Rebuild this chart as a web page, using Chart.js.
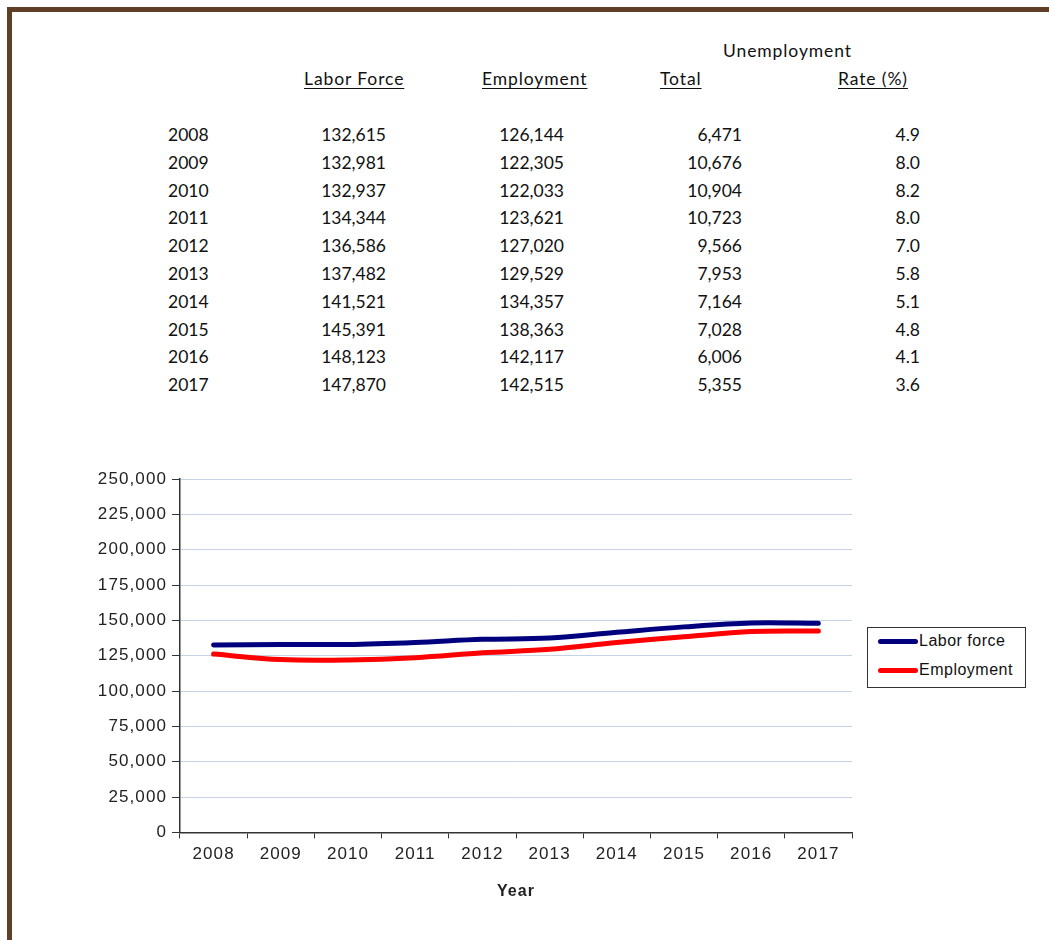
<!DOCTYPE html>
<html>
<head>
<meta charset="utf-8">
<script src="https://cdn.jsdelivr.net/npm/chart.js@4.4.1/dist/chart.umd.min.js"></script>
<style>
  body { margin: 0; background: #fff; width: 1049px; height: 940px; overflow: hidden; position: relative; }
  .frame { position: absolute; left: 7px; top: 7px; width: 1042px; height: 933px; border-top: 5px solid #603f26; border-left: 5px solid #603f26; }
  .t { position: absolute; font-family: Lato, sans-serif; font-size: 17.5px; color: #111; white-space: nowrap; line-height: 20px; }
  .h { letter-spacing: 0.9px; }
  .u { text-decoration: underline; text-underline-offset: 3px; text-decoration-thickness: 1px; }
  .r { text-align: right; }
  #wrap { position: absolute; left: 80px; top: 455px; width: 780px; height: 450px; }
  .legend { position: absolute; left: 867px; top: 627px; width: 157px; height: 59px; border: 1px solid #333; font-family: "Liberation Sans", Arial, sans-serif; font-size: 16px; letter-spacing: 0.5px; color: #111; }
  .legend .item { position: absolute; left: 10px; height: 18px; }
  .legend .sw { position: absolute; left: 0; top: 7px; width: 40px; height: 5px; border-radius: 3px; }
  .legend .lbl { position: absolute; left: 41px; top: 0; white-space: nowrap; }
</style>
</head>
<body>
<div class="frame"></div>
<div id="table"></div>
<div id="wrap"><canvas id="chart"></canvas></div>
<div class="legend" id="legend"></div>
<script>
// Table / chart data
const years = ["2008", "2009", "2010", "2011", "2012", "2013", "2014", "2015", "2016", "2017"];
const laborForce = [132615, 132981, 132937, 134344, 136586, 137482, 141521, 145391, 148123, 147870];
const employment = [126144, 122305, 122033, 123621, 127020, 129529, 134357, 138363, 142117, 142515];
const unempTotal = [6471, 10676, 10904, 10723, 9566, 7953, 7164, 7028, 6006, 5355];
const unempRate = [4.9, 8.0, 8.2, 8.0, 7.0, 5.8, 5.1, 4.8, 4.1, 3.6];
const seriesNames = ["Labor force", "Employment"];
const seriesColors = ["#00007f", "#ff0000"];
const yTicks = { min: 0, max: 250000, step: 25000 };

const fmt = v => v.toLocaleString('en-US');

// build the table as text
const table = document.getElementById('table');
function cell(text, left, top, cls, width) {
  const d = document.createElement('div');
  d.className = 't ' + (cls || '');
  d.textContent = text;
  d.style.top = top + 'px';
  if (width) { d.style.width = width + 'px'; d.style.left = (left - width) + 'px'; }
  else d.style.left = left + 'px';
  table.appendChild(d);
}
cell('Unemployment', 723, 41, 'h');
cell('Labor Force', 304, 69, 'h u');
cell('Employment', 482, 69, 'h u');
cell('Total', 660, 69, 'h u');
cell('Rate (%)', 838, 69, 'h u');
years.forEach((y, i) => {
  const top = 125 + i * 27.8;
  cell(y, 168, top);
  cell(fmt(laborForce[i]), 386, top, 'r', 100);
  cell(fmt(employment[i]), 564, top, 'r', 100);
  cell(fmt(unempTotal[i]), 742, top, 'r', 100);
  cell(unempRate[i].toFixed(1), 920, top, 'r', 100);
});

// legend
const legend = document.getElementById('legend');
seriesNames.forEach((name, i) => {
  const it = document.createElement('div');
  it.className = 'item';
  it.style.top = (4 + i * 29) + 'px';
  it.innerHTML = '<div class="sw" style="background:' + seriesColors[i] + '"></div><div class="lbl">' + name + '</div>';
  legend.appendChild(it);
});

// Excel style wide tracking on axis text
const spacing = {
  id: 'spacing',
  beforeUpdate(chart) { chart.ctx.letterSpacing = '1.1px'; },
  beforeDraw(chart) { chart.ctx.letterSpacing = '1.1px'; }
};

const tickFont = { family: '"Liberation Sans", Arial, sans-serif', size: 17 };
const ctx = document.getElementById('chart').getContext('2d');
new Chart(ctx, {
  type: 'line',
  data: {
    labels: years,
    datasets: [
      { label: seriesNames[0], data: laborForce, borderColor: seriesColors[0], borderWidth: 5, tension: 0.35, pointRadius: 0, borderCapStyle: 'round', fill: false },
      { label: seriesNames[1], data: employment, borderColor: seriesColors[1], borderWidth: 5, tension: 0.35, pointRadius: 0, borderCapStyle: 'round', fill: false }
    ]
  },
  options: {
    responsive: true,
    maintainAspectRatio: false,
    animation: false,
    layout: { padding: { top: 24, right: 8, left: 0, bottom: 0 } },
    plugins: { legend: { display: false }, tooltip: { enabled: false } },
    scales: {
      x: {
        offset: true,
        grid: { offset: true, drawOnChartArea: false, tickColor: '#333', tickLength: 6 },
        border: { color: '#333', width: 1.5 },
        ticks: { color: '#222', font: tickFont, padding: 6, maxRotation: 0 },
        title: { display: true, text: 'Year', color: '#222', font: { family: tickFont.family, size: 16, weight: 'bold' }, padding: { top: 11, bottom: 4 } }
      },
      y: {
        min: yTicks.min,
        max: yTicks.max,
        afterFit: s => { s.width = 100; },
        grid: { color: '#c5d3e6', tickColor: '#333', tickLength: 8 },
        border: { color: '#333', width: 1.5 },
        ticks: { stepSize: yTicks.step, color: '#222', font: tickFont, padding: 5, callback: v => fmt(v) }
      }
    }
  },
  plugins: [spacing]
});
</script>
</body>
</html>
